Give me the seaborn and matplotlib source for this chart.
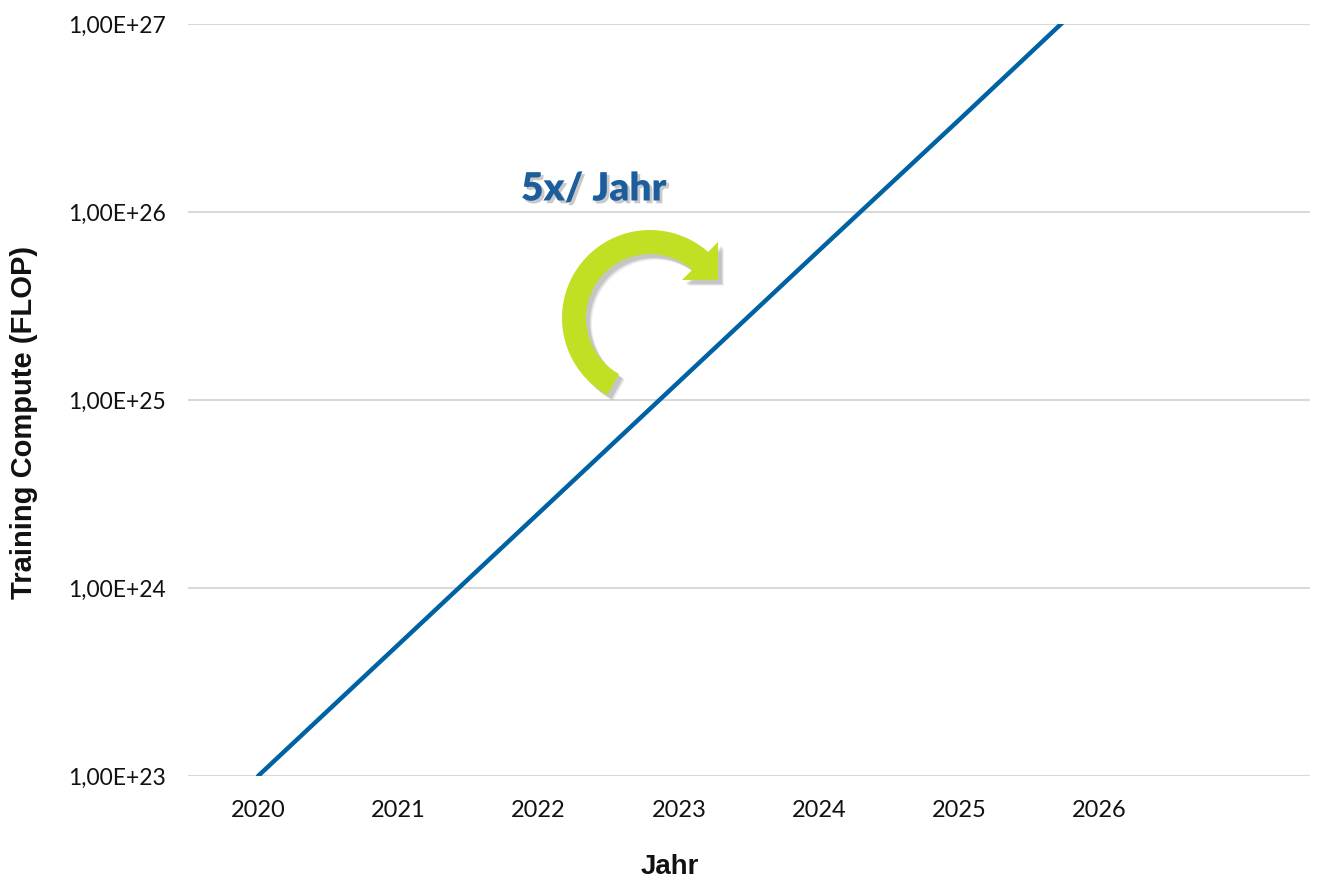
#!/usr/bin/env python3
"""Training compute trend (5x per year) on a log axis."""

import numpy as np
import pandas as pd
import seaborn as sns
import matplotlib.pyplot as plt
import matplotlib.patheffects as pe
from matplotlib.patches import Polygon
from matplotlib.ticker import FixedLocator, FuncFormatter, NullLocator

YEARS = [2020, 2021, 2022, 2023, 2024, 2025, 2026]
COMPUTE = [1.0e23, 5.0e23, 2.5e24, 1.25e25, 6.25e25, 3.1e26, 1.56e27]
Y_TICKS = [1e23, 1e24, 1e25, 1e26, 1e27]
X_LABELS = ["2020", "2021", "2022", "2023", "2024", "2025", "2026"]

LINE_BLUE = "#0062a3"
TEXT_BLUE = "#1c5d9c"
ARROW_GREEN = "#c2e023"


def sci_de(v, _pos=None):
    exp = int(round(np.log10(v)))
    return f"1,00E+{exp}"


def draw_arrow(fig):
    """Curved green arrow, drawn in figure pixel space."""
    over = fig.add_axes([0, 0, 1, 1], zorder=5)
    over.set_xlim(0, 1334)
    over.set_ylim(889, 0)
    over.axis("off")
    over.patch.set_alpha(0)

    cx, cy, r_out, r_in = 650, 318, 88, 64
    phi = np.radians(np.linspace(241, 48.5, 80))
    outer = np.column_stack([cx + r_out * np.cos(phi), cy - r_out * np.sin(phi)])
    inner = np.column_stack([cx + r_in * np.cos(phi), cy - r_in * np.sin(phi)])[::-1]
    head = np.array([[692, 270], [682, 280], [718, 280], [718, 242], [708, 252]])
    band = np.vstack([outer, head[[4, 3, 2, 1, 0]], inner])

    for off, a in [(6, 0.08), (5, 0.12), (4, 0.18)]:
        over.add_patch(Polygon(band + [off, off], closed=True, fc="#555555",
                               ec="none", alpha=a))
    over.add_patch(Polygon(band, closed=True, fc=ARROW_GREEN, ec="none"))

    over.text(521, 189, "5x/ Jahr", fontsize=28, fontweight="heavy",
              color=TEXT_BLUE, ha="left", va="center", family="Lato",
              path_effects=[pe.SimplePatchShadow(offset=(2, -2),
                                                 shadow_rgbFace="#888888", alpha=0.45),
                            pe.Normal()])


def main():
    sns.set_theme(style="white")
    plt.rcParams["font.family"] = ["Lato", "DejaVu Sans"]

    df = pd.DataFrame({"Jahr": YEARS, "Compute": COMPUTE})

    fig = plt.figure(figsize=(13.34, 8.89), dpi=100)
    ax = fig.add_axes([188 / 1334, 1 - 776 / 889, 1122 / 1334, 752 / 889])

    sns.lineplot(data=df, x="Jahr", y="Compute", ax=ax, color=LINE_BLUE,
                 linewidth=3.2, zorder=3)

    ax.set_yscale("log")
    ax.set_ylim(1e23, 1e27)
    ax.set_xlim(2019.5, 2027.5)
    ax.yaxis.set_major_locator(FixedLocator(Y_TICKS))
    ax.yaxis.set_minor_locator(NullLocator())
    ax.yaxis.set_major_formatter(FuncFormatter(sci_de))
    ax.set_xticks(YEARS)
    ax.set_xticklabels(X_LABELS)

    ax.grid(axis="y", color="#d9d9d9", linewidth=1.5)
    ax.grid(axis="x", visible=False)
    ax.set_axisbelow(True)
    for s in ax.spines.values():
        s.set_visible(False)

    ax.tick_params(axis="x", length=0, pad=17.5, labelsize=17, labelcolor="#111111")
    ax.tick_params(axis="y", length=0, pad=16, labelsize=16.5, labelcolor="#111111")

    ax.set_xlabel("Jahr", fontsize=20, fontweight="bold", color="#111111",
                  family="Liberation Sans")
    ax.xaxis.label.set_va("center")
    ax.xaxis.set_label_coords((670 - 188) / 1122, -91 / 752)
    ax.set_ylabel("Training Compute (FLOP)", fontsize=21, fontweight="bold",
                  color="#111111", family="Liberation Sans")
    ax.yaxis.label.set_va("center")
    ax.yaxis.set_label_coords(-164 / 1122, 354 / 752)

    draw_arrow(fig)

    fig.savefig("out.png", dpi=100)
    plt.close(fig)


if __name__ == "__main__":
    main()
